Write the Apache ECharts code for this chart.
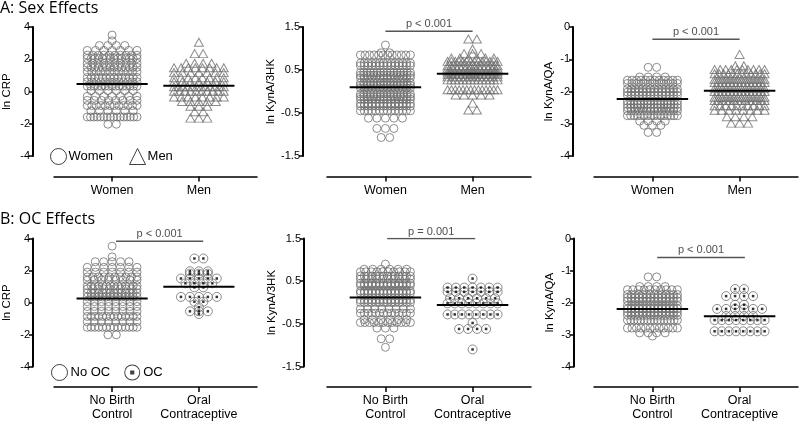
<!DOCTYPE html>
<html><head><meta charset="utf-8">
<script src="https://cdn.jsdelivr.net/npm/echarts@6/dist/echarts.min.js"></script>
<style>html,body{margin:0;padding:0;background:#fff}#c{width:800px;height:423px}</style>
</head><body><div id="c"></div>
<script>
// ---------- data (rows are [value, number of points at that value]) ----------
const sexCats = ['Women', 'Men'];
const ocCats = ['No Birth\nControl', 'Oral\nContraceptive'];
const sexLegend = ['Women', 'Men'];
const ocLegend = ['No OC', 'OC'];
const yNames = ['ln CRP', 'ln KynA/3HK', 'ln KynA/QA'];

const crpWomen = [[3.5,1],[3.15,1],[2.85,4],[2.55,7],[2.25,10],[2.05,14],[1.75,10],[1.5,14],[1.22,12],[0.87,14],[0.6,12],[0.33,15],[0.05,6],[-0.3,7],[-0.55,8],[-0.87,12],[-1.2,6],[-1.58,16],[-2.03,2]];
const crpMen = [[3.05,1],[2.35,2],[1.75,4],[1.47,8],[1.17,7],[0.85,8],[0.6,7],[0.3,12],[0.02,10],[-0.34,8],[-0.62,5],[-0.92,3],[-1.25,2],[-1.65,3]];
const meanCrpSex = [0.47, 0.35];

const k3Women = [[1.08,1],[0.9,2],[0.85,12],[0.66,14],[0.6,14],[0.44,16],[0.38,16],[0.32,14],[0.2,16],[0.14,16],[0.08,14],[-0.06,16],[-0.12,16],[-0.18,14],[-0.28,14],[-0.34,14],[-0.45,14],[-0.62,5],[-0.86,3],[-1.07,2]];
const k3Men = [[1.22,2],[0.99,1],[0.88,3],[0.78,6],[0.7,14],[0.6,14],[0.54,12],[0.46,14],[0.4,14],[0.34,12],[0.27,14],[0.04,14],[-0.08,5],[-0.27,1],[-0.43,2]];
const meanK3Sex = [0.1, 0.41];

const qaWomen = [[-1.25,2],[-1.55,4],[-1.65,12],[-1.75,12],[-1.92,14],[-2.02,14],[-2.12,14],[-2.3,16],[-2.4,16],[-2.5,16],[-2.6,14],[-2.75,16],[-2.92,4],[-3.05,3],[-3.27,2]];
const qaMen = [[-0.85,1],[-1.2,2],[-1.32,10],[-1.45,12],[-1.62,14],[-1.72,14],[-1.9,14],[-2.0,14],[-2.18,14],[-2.28,14],[-2.44,10],[-2.58,8],[-2.78,4],[-2.98,3]];
const meanQaSex = [-2.23, -1.98];

const crpNoOC = [[3.52,1],[2.85,1],[2.55,5],[2.2,7],[1.9,7],[1.6,10],[1.4,8],[1.05,14],[0.85,10],[0.6,14],[0.35,14],[0.05,8],[-0.25,8],[-0.55,8],[-0.87,14],[-1.2,8],[-1.55,14],[-2.02,2]];
const crpOC = [[2.75,2],[1.95,3],[1.8,3],[1.5,5],[1.2,4],[0.95,2],[0.35,5],[0.05,2],[-0.3,1],[-0.55,3],[-0.72,1]];
const meanCrpOC = [0.25, 0.98];

const k3NoOC = [[0.9,1],[0.78,6],[0.72,10],[0.62,14],[0.55,10],[0.45,14],[0.4,14],[0.27,14],[0.22,14],[0.06,14],[0.0,14],[-0.15,8],[-0.25,14],[-0.4,6],[-0.47,12],[-0.6,3],[-0.85,2],[-1.05,1]];
const k3OC = [[0.56,1],[0.35,7],[0.25,7],[0.1,6],[-0.02,8],[-0.28,8],[-0.48,1],[-0.62,4],[-1.1,1]];
const meanK3OC = [0.12, -0.06];

const qaNoOC = [[-1.2,2],[-1.5,4],[-1.6,10],[-1.75,14],[-1.85,14],[-1.95,14],[-2.1,14],[-2.2,14],[-2.3,14],[-2.4,14],[-2.55,16],[-2.8,12],[-2.95,4],[-3.05,1]];
const qaOC = [[-1.58,2],[-1.8,4],[-2.07,2],[-2.2,6],[-2.42,4],[-2.55,8],[-2.9,8]];
const meanQaOC = [-2.2, -2.43];

const pTexts = [null, 'p < 0.001', 'p < 0.001', 'p < 0.001', 'p = 0.001', 'p < 0.001'];
const bracketLevels = [null, 1.4, -0.38, 3.83, 1.5, -0.59];

// ---------- layout ----------
const FONT = '"Liberation Sans", Arial, Helvetica, sans-serif';
const XMIN = 0.33, XMAX = 2.67, GRID_W = 204;
const UNIT = GRID_W / (XMAX - XMIN);

const panels = [
  {left:53,  top:27,    h:129, yOff:21, min:-4,   max:4,   interval:2, yName:yNames[0], gap:20,   cats:sexCats, rows:[crpWomen,crpMen], means:meanCrpSex, oc:false, bx:[1,2]},
  {left:327, top:27,    h:129, yOff:24, min:-1.5, max:1.5, interval:1, yName:yNames[1], gap:18,   cats:sexCats, rows:[k3Women,k3Men],   means:meanK3Sex,  oc:false, bx:[1,2]},
  {left:594, top:27,    h:129, yOff:21, min:-4,   max:0,   interval:1, yName:yNames[2], gap:18.5, cats:sexCats, rows:[qaWomen,qaMen],   means:meanQaSex,  oc:false, bx:[1,2]},
  {left:53,  top:238.5, h:128, yOff:21, min:-4,   max:4,   interval:2, yName:yNames[0], gap:20,   cats:ocCats,  rows:[crpNoOC,crpOC],   means:meanCrpOC,  oc:true,  bx:[1.045,2.05]},
  {left:327, top:238.5, h:128, yOff:23, min:-1.5, max:1.5, interval:1, yName:yNames[1], gap:18,   cats:ocCats,  rows:[k3NoOC,k3OC],     means:meanK3OC,   oc:true,  bx:[1.02,2.03]},
  {left:594, top:238.5, h:128, yOff:20, min:-4,   max:0,   interval:1, yName:yNames[2], gap:18.5, cats:ocCats,  rows:[qaNoOC,qaOC],     means:meanQaOC,   oc:true,  bx:[1.055,2.06]}
];

function swarm(rows, center, step, maxSpan) {
  const pts = [];
  rows.forEach(([v, n]) => {
    const s = n > 1 ? Math.min(step, maxSpan / (n - 1)) : 0;
    for (let i = 0; i < n; i++) pts.push([center + (i - (n - 1) / 2) * s / UNIT, v]);
  });
  return pts;
}

const grids = [], xAxes = [], yAxes = [], series = [];
const GREY = '#707070';
panels.forEach((p, i) => {
  grids.push({left: p.left, top: p.top, width: GRID_W, height: p.h});
  xAxes.push({
    gridIndex: i, type: 'value', min: XMIN, max: XMAX, offset: 20.5,
    axisLine: {show: true, onZero: false, lineStyle: {color: '#000', width: 1.5}},
    axisTick: {show: true, customValues: [1, 2], length: 5, lineStyle: {color: '#000', width: 1.5}},
    axisLabel: {customValues: [1, 2], formatter: v => p.cats[Math.round(v) - 1], fontSize: 12.5, lineHeight: 14, color: '#000', margin: 7, fontFamily: FONT},
    splitLine: {show: false}
  });
  yAxes.push({
    gridIndex: i, type: 'value', min: p.min, max: p.max, interval: p.interval, offset: p.yOff,
    axisLine: {show: true, onZero: false, lineStyle: {color: '#000', width: 2}},
    axisTick: {show: true, length: 4, lineStyle: {color: '#000', width: 1.5}},
    axisLabel: {fontSize: 11, color: '#000', margin: 3, fontFamily: FONT},
    splitLine: {show: false},
    name: p.yName, nameLocation: 'middle', nameGap: p.gap,
    nameTextStyle: {fontSize: 11.5, color: '#000', fontFamily: FONT}
  });
  const names = p.oc ? ocLegend : sexLegend;
  [0, 1].forEach(k => {
    const center = k + 1;
    const isTri = !p.oc && k === 1;
    const pts = swarm(p.rows[k], center, p.oc && k === 1 ? 9 : 8.5, 50);
    series.push({
      type: 'scatter', name: names[k], xAxisIndex: i, yAxisIndex: i, data: pts,
      symbol: isTri ? 'triangle' : 'circle', symbolSize: isTri ? [9, 8] : (p.oc && k === 1 ? 9 : 8),
      itemStyle: {color: 'rgba(0,0,0,0)', borderColor: GREY, borderWidth: 1}, silent: true, z: 2
    });
    if (p.oc && k === 1) {
      series.push({
        type: 'scatter', xAxisIndex: i, yAxisIndex: i, data: pts,
        symbol: 'rect', symbolSize: 2.5, itemStyle: {color: '#000'}, silent: true, z: 3
      });
    }
    series.push({
      type: 'line', xAxisIndex: i, yAxisIndex: i,
      data: [[center - 0.41, p.means[k]], [center + 0.41, p.means[k]]],
      symbol: 'none', lineStyle: {color: '#000', width: 2}, silent: true, z: 5
    });
  });
  if (pTexts[i]) {
    const y = bracketLevels[i];
    series.push({
      type: 'line', xAxisIndex: i, yAxisIndex: i,
      data: [[p.bx[0], y], [p.bx[1], y]], symbol: 'none',
      lineStyle: {color: '#555', width: 1.5}, silent: true, z: 4
    });
    series.push({
      type: 'scatter', xAxisIndex: i, yAxisIndex: i,
      data: [[(p.bx[0] + p.bx[1]) / 2, y]], symbolSize: 0.01, silent: true,
      label: {show: true, position: 'top', distance: 1.5, formatter: pTexts[i], fontSize: 11, color: '#222', fontFamily: FONT}
    });
  }
});

const ringPath = 'path://M0,-10A10,10,0,1,1,0,10A10,10,0,1,1,0,-10ZM0,-8.8A8.8,8.8,0,1,0,0,8.8A8.8,8.8,0,1,0,0,-8.8ZM-2.6,-2.6L2.6,-2.6L2.6,2.6L-2.6,2.6Z';
const hollow = {color: 'rgba(0,0,0,0)', borderColor: '#111', borderWidth: 1};

const chart = echarts.init(document.getElementById('c'), null, {renderer: 'canvas'});
chart.setOption({
  animation: false,
  backgroundColor: '#fff',
  title: [
    {text: 'A: Sex Effects', left: 0, top: 0, padding: 0, textStyle: {fontFamily: '"Open Sans", sans-serif', fontSize: 16, fontWeight: 'normal', color: '#000'}},
    {text: 'B: OC Effects', left: 0, top: 211, padding: 0, textStyle: {fontFamily: '"Open Sans", sans-serif', fontSize: 16, fontWeight: 'normal', color: '#000'}}
  ],
  legend: [
    {data: [{name: sexLegend[0], icon: 'circle', itemStyle: hollow}, {name: sexLegend[1], icon: 'triangle', itemStyle: hollow}],
     left: 50, top: 148, itemWidth: 16, itemHeight: 16, itemGap: 16, padding: 0, selectedMode: false,
     textStyle: {fontSize: 13, color: '#000', fontFamily: FONT, padding: [0, 0, 0, -3]}},
    {data: [{name: ocLegend[0], icon: 'circle', itemStyle: hollow}, {name: ocLegend[1], icon: ringPath, itemStyle: {color: '#111', borderWidth: 0}}],
     left: 51, top: 364, itemWidth: 16, itemHeight: 16, itemGap: 14, padding: 0, selectedMode: false,
     textStyle: {fontSize: 13, color: '#000', fontFamily: FONT, padding: [0, 0, 0, -2]}}
  ],
  grid: grids, xAxis: xAxes, yAxis: yAxes, series: series
});
</script></body></html>
